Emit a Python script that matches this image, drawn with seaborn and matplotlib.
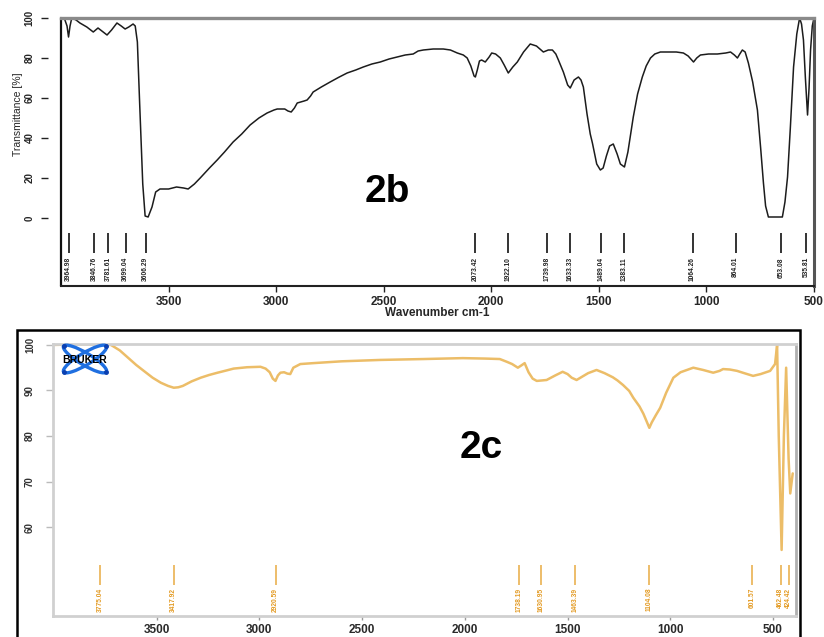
import matplotlib
matplotlib.use("Agg")
import matplotlib.pyplot as plt
import seaborn as sns
import pandas as pd
from matplotlib.patches import Ellipse, Rectangle

# ---------------- data: spectrum 2b ----------------
wn_2b = [4000, 3985, 3972, 3965, 3958, 3950, 3930, 3912, 3880, 3850, 3828, 3810, 3786, 3765,
         3740, 3720, 3702, 3685, 3665, 3655, 3645, 3635, 3620, 3609, 3595, 3577, 3560, 3540,
         3500, 3463, 3430, 3409, 3380, 3353, 3310, 3274, 3240, 3200, 3160, 3121, 3080, 3042,
         3010, 2995, 2960, 2945, 2930, 2915, 2902, 2870, 2856, 2840, 2828, 2790, 2749, 2710,
         2670, 2630, 2595, 2555, 2516, 2475, 2437, 2400, 2363, 2340, 2316, 2270, 2223, 2190,
         2158, 2130, 2112, 2095, 2080, 2074, 2065, 2055, 2045, 2028, 2010, 1998, 1980, 1958,
         1940, 1921, 1900, 1879, 1850, 1819, 1790, 1758, 1735, 1716, 1700, 1688, 1665, 1645,
         1633, 1615, 1595, 1583, 1572, 1555, 1540, 1530, 1510, 1493, 1480, 1465, 1450, 1433,
         1415, 1400, 1381, 1365, 1340, 1320, 1298, 1280, 1260, 1240, 1214, 1180, 1140, 1107,
         1085, 1060, 1045, 1028, 990, 949, 910, 888, 870, 856, 845, 833, 820, 805, 785, 763,
         748, 735, 725, 712, 680, 647, 635, 623, 610, 595, 580, 567, 558, 549, 540, 530, 523,
         516, 508, 502]
t_2b = [100, 100, 96, 90.5, 96, 100, 99, 97.5, 95.5, 93, 95, 93.5, 91.5, 94,
        97.5, 96, 94.5, 95.5, 97, 96, 88, 59, 17, 1, 0.5, 5.5, 13, 14.5,
        14.5, 15.5, 15, 14.5, 17, 20, 25, 29, 33, 38, 42, 46.5, 50, 52.5,
        54, 54.5, 54.5, 53.5, 53, 55, 57.5, 58.5, 59, 61, 63, 65.5, 68, 70.3,
        72.5, 74, 75.5, 77, 78, 79.5, 80.5, 81.5, 82, 83.5, 84, 84.5, 84.5, 84,
        82.5, 81.5, 80, 76, 71, 70.5, 74, 78.5, 79, 78, 80.5, 82.5, 82, 80,
        76.5, 72.5, 75.5, 78, 83, 87, 86, 83, 84, 84, 82, 79, 73, 66.5,
        65, 69, 70.5, 69, 65.5, 52, 42, 37.5, 27, 24, 25, 31, 36, 37,
        32, 27, 25.5, 33, 50.5, 62, 70.5, 76, 80, 82, 83, 83, 83, 82.5,
        81, 78, 80, 81.5, 82, 82, 82.5, 83, 81.5, 80, 82, 84, 83, 77.5, 68, 54,
        35, 17.5, 6, 0.5, 0.5, 0.5, 8, 20.5, 45, 75.5, 92, 100, 97, 89, 70, 51.5, 65,
        84, 96, 99]
peaks_2b = [3964.98, 3846.76, 3781.61, 3699.04, 3606.29, 2073.42, 1922.10, 1739.98,
            1633.33, 1489.04, 1383.11, 1064.26, 864.01, 653.08, 535.81]
peak_labels_2b = ["3964.98", "3846.76", "3781.61", "3699.04", "3606.29", "2073.42",
                  "1922.10", "1739.98", "1633.33", "1489.04", "1383.11", "1064.26",
                  "864.01", "653.08", "535.81"]

# ---------------- data: spectrum 2c ----------------
wn_2c = [4000, 3900, 3800, 3723, 3680, 3640, 3600, 3563, 3520, 3480, 3445, 3417, 3395, 3373,
         3330, 3286, 3245, 3204, 3160, 3126, 3060, 2995, 2970, 2950, 2935, 2922, 2910, 2898,
         2880, 2864, 2850, 2835, 2801, 2738, 2600, 2413, 2200, 2010, 1900, 1830, 1796, 1770,
         1742, 1725, 1709, 1690, 1670, 1650, 1625, 1602, 1560, 1524, 1500, 1480, 1456, 1430,
         1400, 1359, 1320, 1280, 1257, 1230, 1200, 1180, 1150, 1131, 1115, 1102, 1090, 1070,
         1049, 1020, 985, 950, 888, 840, 791, 760, 743, 710, 675, 640, 597, 560, 514, 490,
         480, 472, 458, 447, 436, 424, 416, 404]
t_2c = [100, 100.1, 100.1, 100, 98.8, 97.2, 95.6, 94.3, 92.8, 91.7, 91, 90.6, 90.7, 91,
        92, 92.8, 93.4, 93.9, 94.4, 94.8, 95.1, 95.2, 94.8, 94, 92.6, 92.1, 93.3, 93.9,
        94, 93.7, 93.6, 95, 95.8, 96, 96.4, 96.7, 96.9, 97.1, 97, 96.9, 96.3, 95.8,
        95, 95.5, 96, 94, 92.6, 92.1, 92.2, 92.3, 93.3, 94.1, 93.6, 92.8, 92.3, 93,
        93.8, 94.5, 93.8, 92.9, 92.2, 91.2, 89.9, 88.4, 86.5, 84.9, 83.2, 81.8, 83, 84.6,
        86.2, 89.5, 92.8, 94, 95, 94.5, 93.9, 94.3, 94.7, 94.6, 94.3, 93.8, 93.2, 93.6, 94.3, 95.8,
        100, 80, 55, 80, 95, 75, 67.4, 71.8]
peaks_2c = [3775.04, 3417.92, 2920.59, 1738.19, 1630.95, 1463.39, 1104.08, 601.57, 462.48, 424.42]
peak_labels_2c = ["3775.04", "3417.92", "2920.59", "1738.19", "1630.95", "1463.39",
                  "1104.08", "601.57", "462.48", "424.42"]

x_ticks = [3500, 3000, 2500, 2000, 1500, 1000, 500]
y_ticks_2b = [0, 20, 40, 60, 80, 100]
y_ticks_2c = [60, 70, 80, 90, 100]

# ---------------- style ----------------
sns.set_theme(style="white")
plt.rcParams["font.family"] = ["Liberation Sans", "DejaVu Sans"]

W, H = 824, 637
fig = plt.figure(figsize=(W / 100, H / 100), dpi=100)
fig.patch.set_facecolor("white")

# ================= panel 2b =================
ax1 = fig.add_axes([61 / W, 1 - 286 / H, (814 - 61) / W, (286 - 18) / H])
# detached y-axis (must be set before styling ticks)
ax1.spines["left"].set_position(("outward", 9))
ax1.spines["left"].set_visible(False)

df_b = pd.DataFrame({"wn": wn_2b, "t": t_2b})
sns.lineplot(data=df_b, x="wn", y="t", ax=ax1, color="#1c1c1c", lw=1.1,
             estimator=None, sort=False)
ax1.set_xlim(4000, 500)
ax1.set_ylim(-34, 100)
ax1.vlines(peaks_2b, -17.5, -7.5, color="#333333", lw=1.4)
for p, lab in zip(peaks_2b, peak_labels_2b):
    ax1.text(p, -19.5, lab, rotation=90, ha="center", va="top", fontsize=4.8,
             fontweight="bold", color="#222222")
ax1.text(0.433, 0.351, "2b", transform=ax1.transAxes, ha="center", va="center",
         fontsize=28, fontweight="bold", color="black")

ax1.set_xticks(x_ticks)
ax1.set_xticklabels([str(v) for v in x_ticks], fontsize=8.5, fontweight="bold")
ax1.set_yticks(y_ticks_2b)
ax1.set_yticklabels([str(v) for v in y_ticks_2b], rotation=90, va="center",
                    fontsize=7, fontweight="bold")
ax1.tick_params(axis="x", bottom=True, direction="out", length=4, width=1,
                color="#222222", pad=3)
ax1.tick_params(axis="y", left=True, direction="out", length=5, width=1,
                color="#222222", pad=5)
ax1.plot([0, 0], [0, 1], transform=ax1.transAxes, color="#111111", lw=1.6,
         clip_on=False)
ax1.spines["bottom"].set_color("#222222")
ax1.spines["bottom"].set_linewidth(1.5)
ax1.spines["top"].set_color("#8a8a8a")
ax1.spines["top"].set_linewidth(2.4)
ax1.spines["right"].set_color("#555555")
ax1.spines["right"].set_linewidth(2.2)
ax1.set_xlabel("Wavenumber cm-1", fontsize=8.5, fontweight="bold")
ax1.set_ylabel("Transmittance [%]", fontsize=7.5)
ax1.xaxis.set_label_coords(0.5, -0.078)
ax1.yaxis.set_label_coords(-0.051, 0.64)

# ================= panel 2c =================
fig.add_artist(Rectangle((17 / W, -0.05), (800 - 17) / W, 1 - 330 / H + 0.05,
                         transform=fig.transFigure, fill=False, ec="black", lw=1.8))
ax2 = fig.add_axes([53 / W, 1 - 616 / H, (796 - 53) / W, (616 - 344) / H])
df_c = pd.DataFrame({"wn": wn_2c, "t": t_2c})
sns.lineplot(data=df_c, x="wn", y="t", ax=ax2, color="#ecbd68", lw=1.8,
             estimator=None, sort=False)
ax2.set_xlim(4005, 388)
ax2.set_ylim(40.5, 100.2)
ax2.vlines(peaks_2c, 47.3, 51.7, color="#edbd6a", lw=1.4)
for p, lab in zip(peaks_2c, peak_labels_2c):
    ax2.text(p, 46.7, lab, rotation=90, ha="center", va="top", fontsize=4.8,
             fontweight="bold", color="#e39a22")
ax2.text(0.576, 0.618, "2c", transform=ax2.transAxes, ha="center", va="center",
         fontsize=28, fontweight="bold", color="black")

ax2.set_xticks(x_ticks)
ax2.set_xticklabels([str(v) for v in x_ticks], fontsize=8.5, fontweight="bold",
                    color="#2a2a2a")
ax2.set_yticks(y_ticks_2c)
ax2.set_yticklabels([str(v) for v in y_ticks_2c], rotation=90, va="center",
                    fontsize=7, fontweight="bold", color="#333333")
ax2.tick_params(axis="x", bottom=True, direction="out", length=3, width=1,
                color="#999999", pad=3)
ax2.tick_params(axis="y", left=True, direction="out", length=5, width=1,
                color="#bbbbbb", pad=8)
for side in ["left", "bottom", "top"]:
    ax2.spines[side].set_color("#d0d0d0")
    ax2.spines[side].set_linewidth(2)
ax2.spines["right"].set_color("#b0b0b0")
ax2.spines["right"].set_linewidth(2)
ax2.set_xlabel("")
ax2.set_ylabel("")

# Bruker logo (decoration)
lg = fig.add_axes([52 / W, 1 - 376 / H, 66 / W, 34 / H])
lg.set_xlim(0, 66)
lg.set_ylim(0, 34)
lg.axis("off")
for ang in (31, -31):
    lg.add_patch(Ellipse((33, 17), 50, 12, angle=ang, fill=False, ec="#1f6fe0", lw=2.4))
for (px, py) in [(12, 4), (12, 30), (54, 4), (54, 30)]:
    lg.plot(px, py, "o", color="#0a3fb0", ms=2.5)
lg.text(33, 16, "BRUKER", ha="center", va="center", fontsize=7.5, fontweight="heavy",
        color="black", clip_on=False)

fig.savefig("out.png", dpi=100, facecolor="white")
